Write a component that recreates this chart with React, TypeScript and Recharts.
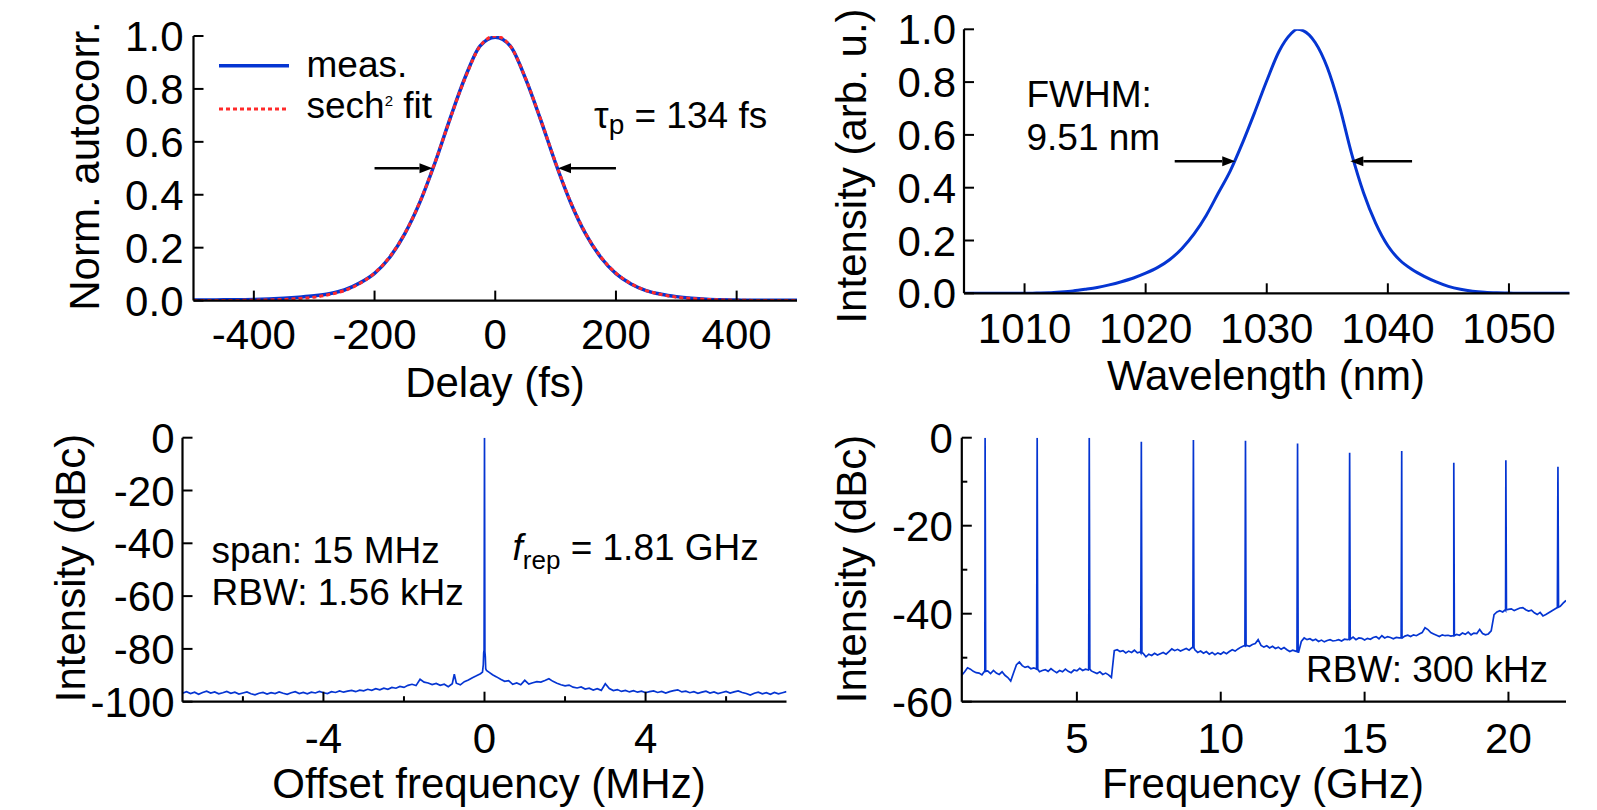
import { LineChart, Line, XAxis, YAxis, ReferenceLine } from 'recharts'

const FONT = '"Liberation Sans", Arial, Helvetica, sans-serif'
const BLUE = '#0535d2'
const RED = '#ff2a2a'
const INK = '#000'
const TICK_FS = 42
const TITLE_FS = 42
const NOTE_FS = 37

// (a) intensity autocorrelation
const delayFs = [
  -500, -475, -450, -425, -400, -375, -350, -325, -300, -275, -250, -225, -200, -175, -150, -125, -100, -75, -50, -25,
  0, 25, 50, 75, 100, 125, 150, 175, 200, 225, 250, 275, 300, 325, 350, 375, 400, 425, 450, 475, 500,
]
const autocorrMeas = [
  0.002, 0.002, 0.003, 0.003, 0.004, 0.006, 0.009, 0.013, 0.018, 0.026, 0.04, 0.066, 0.103, 0.163, 0.252, 0.371, 0.52, 0.687, 0.843, 0.963,
  0.995, 0.962, 0.84, 0.685, 0.519, 0.37, 0.251, 0.163, 0.102, 0.063, 0.038, 0.024, 0.015, 0.009, 0.005, 0.003, 0.002, 0.001, 0.001, 0.001, 0.001,
]
const autocorrFit = [
  0.0001, 0.0002, 0.0004, 0.0008, 0.0014, 0.0025, 0.0045, 0.008, 0.013, 0.023, 0.038, 0.064, 0.104, 0.165, 0.253, 0.372, 0.521, 0.686, 0.841, 0.962,
  1.0, 0.962, 0.841, 0.686, 0.521, 0.372, 0.253, 0.165, 0.104, 0.064, 0.038, 0.023, 0.013, 0.008, 0.0045, 0.0025, 0.0014, 0.0008, 0.0004, 0.0002, 0.0001,
]
const delayTicks = [-400, -200, 0, 200, 400]
const unitTicks = [0, 0.2, 0.4, 0.6, 0.8, 1]

// (b) optical spectrum
const wavelengthNm = [
  1005, 1006, 1007, 1008, 1009, 1010, 1011, 1012, 1013, 1014,
  1015, 1016, 1017, 1018, 1019, 1020, 1021, 1022, 1023, 1024,
  1025, 1026, 1027, 1028, 1029, 1030, 1031, 1032, 1032.5, 1033,
  1034, 1035, 1036, 1037, 1038, 1039, 1040, 1041, 1042, 1043,
  1044, 1045, 1046, 1047, 1048, 1049, 1050, 1051, 1052, 1053,
  1054, 1055,
]
const spectrumInt = [
  0, 0, 0, 0, 0, 0, 0.001, 0.002, 0.005, 0.009,
  0.015, 0.022, 0.032, 0.044, 0.058, 0.076, 0.098, 0.128, 0.17, 0.225,
  0.295, 0.38, 0.465, 0.57, 0.685, 0.805, 0.915, 0.983, 1.0, 0.995,
  0.95, 0.855, 0.71, 0.53, 0.38, 0.265, 0.18, 0.125, 0.09, 0.064,
  0.043, 0.026, 0.015, 0.008, 0.004, 0.002, 0.001, 0, 0, 0,
  0, 0,
]
const wavelengthTicks = [1010, 1020, 1030, 1040, 1050]

// (c) RF spectrum around the first harmonic
const offsetMHz = [
  -7.5, -7.4, -7.3, -7.2, -7.1, -7.0, -6.9, -6.8, -6.7, -6.6,
  -6.5, -6.4, -6.3, -6.2, -6.1, -6.0, -5.9, -5.8, -5.7, -5.6,
  -5.5, -5.4, -5.3, -5.2, -5.1, -5.0, -4.9, -4.8, -4.7, -4.6,
  -4.5, -4.4, -4.3, -4.2, -4.1, -4.0, -3.9, -3.8, -3.7, -3.6,
  -3.5, -3.4, -3.3, -3.2, -3.1, -3.0, -2.9, -2.8, -2.7, -2.6,
  -2.5, -2.4, -2.3, -2.2, -2.1, -2.0, -1.9, -1.8, -1.7, -1.6,
  -1.5, -1.4, -1.3, -1.2, -1.1, -1.0, -0.9, -0.8, -0.75, -0.7,
  -0.6, -0.5, -0.4, -0.3, -0.2, -0.1, -0.05, -0.03, -0.02, -0.01,
  0, 0.01, 0.02, 0.03, 0.05, 0.1, 0.2, 0.3, 0.4, 0.5,
  0.6, 0.7, 0.8, 0.9, 1.0, 1.1, 1.2, 1.3, 1.4, 1.5,
  1.6, 1.7, 1.8, 1.9, 2.0, 2.1, 2.2, 2.3, 2.4, 2.5,
  2.6, 2.7, 2.8, 2.9, 3.0, 3.1, 3.2, 3.3, 3.4, 3.5,
  3.6, 3.7, 3.8, 3.9, 4.0, 4.1, 4.2, 4.3, 4.4, 4.5,
  4.6, 4.7, 4.8, 4.9, 5.0, 5.1, 5.2, 5.3, 5.4, 5.5,
  5.6, 5.7, 5.8, 5.9, 6.0, 6.1, 6.2, 6.3, 6.4, 6.5,
  6.6, 6.7, 6.8, 6.9, 7.0, 7.1, 7.2, 7.3, 7.4, 7.5,
]
const offsetDbc = [
  -96.8, -96.2, -96.9, -96.4, -97.2, -96.5, -96.0, -96.7, -96.3, -97.0,
  -96.6, -96.1, -96.8, -96.4, -97.1, -96.7, -96.3, -97.0, -97.4, -96.8,
  -96.5, -97.1, -96.6, -96.9, -96.3, -96.8, -97.2, -96.6, -96.2, -96.9,
  -96.5, -97.0, -96.4, -96.7, -96.1, -96.6, -96.9, -96.2, -96.5, -95.9,
  -96.4, -96.0, -95.7, -96.2, -95.6, -95.9, -95.3, -95.7, -95.1, -95.5,
  -94.9, -95.3, -94.6, -94.9, -94.2, -94.6, -93.8, -93.4, -93.9, -91.5,
  -92.6, -92.9, -93.5, -93.1, -93.8, -93.4, -94.3, -93.2, -89.6, -93.0,
  -93.6, -92.4, -91.8, -90.9, -90.2, -89.4, -88.8, -86.0, -81.5, -80.5,
  0, -81.0, -83.0, -87.5, -88.2, -88.7, -89.8, -90.6, -91.5, -92.3,
  -92.0, -93.4, -92.9, -93.6, -91.9, -93.3, -92.8, -92.4, -92.6, -92.0,
  -91.3, -92.3, -93.0, -93.6, -94.0, -93.7, -94.5, -94.8, -94.4, -95.2,
  -94.9, -95.6, -95.1, -95.7, -93.2, -95.0, -95.8, -95.4, -96.1, -95.7,
  -96.3, -95.8, -96.4, -96.0, -96.6, -96.2, -95.9, -96.5, -96.1, -96.7,
  -96.2, -95.8, -95.5, -96.3, -96.0, -96.6, -96.2, -96.8, -96.4, -96.0,
  -96.7, -96.3, -96.9, -96.5, -96.1, -96.7, -96.3, -95.9, -96.5, -96.9,
  -97.5, -96.8, -96.4, -97.0, -96.6, -97.2, -96.5, -97.0, -96.6, -96.2,
]
const offsetTicks = [-6, -4, -2, 0, 2, 4, 6]
const offsetLabelled = [-4, 0, 4]
const dbcTicks = [0, -20, -40, -60, -80, -100]

// (d) wide-span RF spectrum: noise floor plus the comb lines
const floorGHz = [
  1.0, 1.1, 1.2, 1.3, 1.4, 1.5, 1.6, 1.7, 1.8, 1.9,
  2.0, 2.1, 2.2, 2.3, 2.4, 2.5, 2.6, 2.7, 2.8, 2.9,
  3.0, 3.1, 3.2, 3.3, 3.4, 3.5, 3.6, 3.7, 3.8, 3.9,
  4.0, 4.1, 4.2, 4.3, 4.4, 4.5, 4.6, 4.7, 4.8, 4.9,
  5.0, 5.1, 5.2, 5.3, 5.4, 5.5, 5.6, 5.7, 5.8, 5.9,
  6.0, 6.1, 6.2, 6.3, 6.4, 6.5, 6.6, 6.7, 6.8, 6.9,
  7.0, 7.1, 7.2, 7.3, 7.4, 7.5, 7.6, 7.7, 7.8, 7.9,
  8.0, 8.1, 8.2, 8.3, 8.4, 8.5, 8.6, 8.7, 8.8, 8.9,
  9.0, 9.1, 9.2, 9.3, 9.4, 9.5, 9.6, 9.7, 9.8, 9.9,
  10.0, 10.1, 10.2, 10.3, 10.4, 10.5, 10.6, 10.7, 10.8, 10.9,
  11.0, 11.1, 11.2, 11.3, 11.4, 11.5, 11.6, 11.7, 11.8, 11.9,
  12.0, 12.1, 12.2, 12.3, 12.4, 12.5, 12.6, 12.7, 12.8, 12.9,
  13.0, 13.1, 13.2, 13.3, 13.4, 13.5, 13.6, 13.7, 13.8, 13.9,
  14.0, 14.1, 14.2, 14.3, 14.4, 14.5, 14.6, 14.7, 14.8, 14.9,
  15.0, 15.1, 15.2, 15.3, 15.4, 15.5, 15.6, 15.7, 15.8, 15.9,
  16.0, 16.1, 16.2, 16.3, 16.4, 16.5, 16.6, 16.7, 16.8, 16.9,
  17.0, 17.1, 17.2, 17.3, 17.4, 17.5, 17.6, 17.7, 17.8, 17.9,
  18.0, 18.1, 18.2, 18.3, 18.4, 18.5, 18.6, 18.7, 18.8, 18.9,
  19.0, 19.1, 19.2, 19.3, 19.4, 19.5, 19.6, 19.7, 19.8, 19.9,
  20.0, 20.1, 20.2, 20.3, 20.4, 20.5, 20.6, 20.7, 20.8, 20.9,
  21.0, 21.1, 21.2, 21.3, 21.4, 21.5, 21.6, 21.7, 21.8, 21.9,
  22.0,
]
const floorDbc = [
  -54.0, -53.2, -52.3, -52.6, -53.1, -53.4, -53.5, -53.9, -53.3, -53.0,
  -53.6, -52.9, -53.5, -53.8, -53.2, -54.0, -54.5, -55.3, -53.4, -51.6,
  -51.0, -51.8, -52.2, -52.0, -52.5, -52.3, -52.6, -53.2, -52.9, -52.7,
  -53.1, -52.5, -53.0, -53.4, -52.9, -53.2, -52.6, -53.1, -53.4, -52.8,
  -53.0, -52.4, -52.9, -52.6, -52.8, -53.0, -53.3, -53.6, -53.2, -53.8,
  -53.5, -53.9, -54.5, -48.4, -48.2, -48.6, -48.4, -48.9, -48.5, -48.8,
  -48.3, -48.9, -48.7, -49.0, -49.8, -49.2, -49.5, -49.0, -49.4, -49.1,
  -48.8, -49.2, -48.6, -48.0, -48.4, -48.1, -48.5, -48.2, -47.9, -48.3,
  -47.7, -48.2, -48.8, -48.5, -49.0, -48.6, -49.2, -48.8, -49.3, -48.9,
  -49.2, -48.7, -49.1, -48.6, -48.2, -48.5, -48.0, -47.6, -47.3, -47.2,
  -47.4, -47.0, -46.8, -45.9, -47.2, -47.6, -47.3, -47.8, -47.4, -47.9,
  -47.6, -48.1, -47.7, -48.2, -48.6, -48.3, -48.5, -48.9, -46.3, -45.5,
  -45.9, -45.7, -46.1, -45.8, -46.3, -46.0, -46.4, -46.1, -45.9, -46.2,
  -46.1, -45.9, -46.2, -45.8, -45.9, -45.7, -45.3, -45.9, -45.5, -45.6,
  -46.0, -45.6, -45.8, -45.4, -45.2, -45.7, -45.0, -45.5, -45.2, -45.4,
  -45.7, -45.4, -45.5, -45.3, -45.1, -44.9, -45.2, -44.8, -45.0, -44.6,
  -44.3, -43.2, -43.6, -44.3, -44.6, -44.9, -45.2, -44.8, -45.0, -44.9,
  -45.1, -45.0, -44.7, -44.9, -44.4, -44.7, -44.2, -44.8, -44.4, -44.5,
  -43.6, -44.5, -44.8, -44.6, -43.9, -40.2, -39.6, -39.3, -39.6, -39.2,
  -39.0, -38.9, -39.3, -39.0, -38.7, -38.6, -39.1, -39.4, -39.2, -39.8,
  -40.2, -39.7, -40.5, -40.2, -39.8, -39.4, -39.0, -38.6, -38.3, -37.6,
  -37.0,
]
const combGHz = [1.81, 3.62, 5.43, 7.24, 9.05, 10.86, 12.67, 14.48, 16.29, 18.1, 19.91, 21.72]
const combPeakDbc = [0, 0, 0, -0.9, -0.5, -0.7, -1.3, -3.4, -3.0, -5.7, -5.1, -6.6]
const combBaseDbc = [-53.1, -52.6, -52.6, -48.9, -47.7, -47.3, -48.6, -45.8, -45.5, -45.0, -39.1, -38.5]
const freqTicks = [5, 10, 15, 20]
const wideDbcTicks = [0, -10, -20, -30, -40, -50, -60]

type Side = 'bottom' | 'top' | 'left' | 'right'

// inward tick marks drawn by hand so the frame looks like the original plot
function axisTick(side: Side, fmt?: (v: number) => string, isMinor?: (v: number) => boolean, gap = 12) {
  return (props: any) => {
    const { x, y, payload } = props
    const v: number = payload.value
    const minor = isMinor ? isMinor(v) : false
    const len = minor ? 5.5 : 10
    const end =
      side === 'bottom' ? { x2: x, y2: y - len }
        : side === 'top' ? { x2: x, y2: y + len }
          : side === 'left' ? { x2: x + len, y2: y }
            : { x2: x - len, y2: y }
    let label = null
    if (fmt && !minor) {
      const txt = fmt(v)
      if (side === 'bottom') {
        label = (
          <text x={x} y={y + gap + 0.716 * TICK_FS} textAnchor="middle" fontSize={TICK_FS} fontFamily={FONT} fill={INK}>
            {txt}
          </text>
        )
      } else if (side === 'left') {
        label = (
          <text x={x - gap} y={y + 0.358 * TICK_FS} textAnchor="end" fontSize={TICK_FS} fontFamily={FONT} fill={INK}>
            {txt}
          </text>
        )
      }
    }
    return (
      <g>
        <line x1={x} y1={y} {...end} stroke={INK} strokeWidth={2} />
        {label}
      </g>
    )
  }
}

interface FrameOpts {
  xDomain: [number, number]
  xTicks: number[]
  yDomain: [number, number]
  yTicks: number[]
  xFmt: (v: number) => string
  yFmt: (v: number) => string
  xMinor?: (v: number) => boolean
  yMinor?: (v: number) => boolean
  xHeight: number
  yWidth: number
  xGap: number
  yGap: number
}

function frame(o: FrameOpts) {
  const axisLine = { stroke: INK, strokeWidth: 2.2 }
  const common = { tickSize: 0, tickMargin: 0, tickLine: false, interval: 0 as const, allowDataOverflow: true, stroke: INK, axisLine }
  return [
    <XAxis key="xb" xAxisId="b" orientation="bottom" type="number" dataKey="x" domain={o.xDomain} ticks={o.xTicks}
      height={o.xHeight} tick={axisTick('bottom', o.xFmt, o.xMinor, o.xGap)} {...common} />,
    <XAxis key="xt" xAxisId="t" orientation="top" type="number" dataKey="x" domain={o.xDomain} ticks={o.xTicks}
      height={0} tick={axisTick('top', undefined, o.xMinor)} {...common} />,
    <YAxis key="yl" yAxisId="l" orientation="left" type="number" domain={o.yDomain} ticks={o.yTicks}
      width={o.yWidth} tick={axisTick('left', o.yFmt, o.yMinor, o.yGap)} {...common} />,
    <YAxis key="yr" yAxisId="r" orientation="right" type="number" domain={o.yDomain} ticks={o.yTicks}
      width={0} tick={axisTick('right', undefined, o.yMinor)} {...common} />,
  ]
}

const arrowShape = (p: any) => {
  const { x1, y1, x2, y2 } = p
  const dx = x2 - x1
  const dy = y2 - y1
  const len = Math.hypot(dx, dy) || 1
  const ux = dx / len
  const uy = dy / len
  const hl = 13
  const hw = 5
  const bx = x2 - ux * hl
  const by = y2 - uy * hl
  return (
    <g>
      <line x1={x1} y1={y1} x2={bx} y2={by} stroke={INK} strokeWidth={2.5} />
      <polygon points={`${x2},${y2} ${bx - uy * hw},${by + ux * hw} ${bx + uy * hw},${by - ux * hw}`} fill={INK} />
    </g>
  )
}

const fixed1 = (v: number) => v.toFixed(1)
const plain = (v: number) => String(v)

export default function App() {
  const autocorrRows = delayFs.map((x, i) => ({ x, meas: autocorrMeas[i], fit: autocorrFit[i] }))
  const spectrumRows = wavelengthNm.map((x, i) => ({ x, y: spectrumInt[i] }))
  const offsetRows = offsetMHz.map((x, i) => ({ x, y: offsetDbc[i] }))
  const wideRows = [
    ...floorGHz.map((x, i) => ({ x, y: floorDbc[i] })),
    ...combGHz.flatMap((f, i) => [
      { x: f - 0.02, y: combBaseDbc[i] },
      { x: f, y: combPeakDbc[i] },
      { x: f + 0.02, y: combBaseDbc[i] },
    ]),
  ].sort((a, b) => a.x - b.x)

  const txt = { fontFamily: FONT, fill: INK }

  return (
    <div style={{ position: 'absolute', left: 0, top: 0, width: 1597, height: 810, background: '#fff' }}>
      <div style={{ position: 'absolute', left: 0, top: 0 }}>
        <LineChart width={800} height={405} data={autocorrRows} margin={{ top: 36, right: 3, bottom: 0, left: 0 }}>
          {frame({
            xDomain: [-500, 500], xTicks: delayTicks, yDomain: [0, 1], yTicks: unitTicks,
            xFmt: plain, yFmt: fixed1, xHeight: 104.4, yWidth: 193.5, xGap: 18.4, yGap: 10,
          })}
          <Line xAxisId="b" yAxisId="l" type="monotone" dataKey="meas" stroke={BLUE} strokeWidth={3.5} dot={false} isAnimationActive={false} />
          <Line xAxisId="b" yAxisId="l" type="monotone" dataKey="fit" stroke={RED} strokeWidth={3} strokeDasharray="4 3" dot={false} isAnimationActive={false} />
          <ReferenceLine xAxisId="b" yAxisId="l" segment={[{ x: -200, y: 0.5 }, { x: -104, y: 0.5 }]} shape={arrowShape} />
          <ReferenceLine xAxisId="b" yAxisId="l" segment={[{ x: 200, y: 0.5 }, { x: 104, y: 0.5 }]} shape={arrowShape} />
        </LineChart>
      </div>

      <div style={{ position: 'absolute', left: 800, top: 0 }}>
        <LineChart width={797} height={405} data={spectrumRows} margin={{ top: 29.3, right: 27.5, bottom: 0, left: 0 }}>
          {frame({
            xDomain: [1005, 1055], xTicks: wavelengthTicks, yDomain: [0, 1], yTicks: unitTicks,
            xFmt: plain, yFmt: fixed1, xHeight: 111.7, yWidth: 164, xGap: 19.5, yGap: 8,
          })}
          <Line xAxisId="b" yAxisId="l" type="monotone" dataKey="y" stroke={BLUE} strokeWidth={3} dot={false} isAnimationActive={false} />
          <ReferenceLine xAxisId="b" yAxisId="l" segment={[{ x: 1022.4, y: 0.5 }, { x: 1027.4, y: 0.5 }]} shape={arrowShape} />
          <ReferenceLine xAxisId="b" yAxisId="l" segment={[{ x: 1042, y: 0.5 }, { x: 1036.9, y: 0.5 }]} shape={arrowShape} />
        </LineChart>
      </div>

      <div style={{ position: 'absolute', left: 0, top: 405 }}>
        <LineChart width={800} height={405} data={offsetRows} margin={{ top: 32.7, right: 13.5, bottom: 0, left: 0 }}>
          {frame({
            xDomain: [-7.5, 7.5], xTicks: offsetTicks, yDomain: [-100, 0], yTicks: dbcTicks,
            xFmt: plain, yFmt: plain, xMinor: (v) => !offsetLabelled.includes(v),
            xHeight: 108.3, yWidth: 182.5, xGap: 21, yGap: 8,
          })}
          <Line xAxisId="b" yAxisId="l" type="linear" dataKey="y" stroke={BLUE} strokeWidth={1.7} dot={false} isAnimationActive={false} />
        </LineChart>
      </div>

      <div style={{ position: 'absolute', left: 800, top: 405 }}>
        <LineChart width={797} height={405} data={wideRows} margin={{ top: 32.7, right: 31, bottom: 0, left: 0 }}>
          {frame({
            xDomain: [1, 22], xTicks: freqTicks, yDomain: [-60, 0], yTicks: wideDbcTicks,
            xFmt: plain, yFmt: plain, yMinor: (v) => v % 20 !== 0,
            xHeight: 108.3, yWidth: 161.8, xGap: 21, yGap: 9,
          })}
          <Line xAxisId="b" yAxisId="l" type="linear" dataKey="y" stroke={BLUE} strokeWidth={1.7} dot={false} isAnimationActive={false} />
        </LineChart>
      </div>

      <svg width={1597} height={810} style={{ position: 'absolute', left: 0, top: 0, pointerEvents: 'none' }}>
        {/* axis titles */}
        <text {...txt} fontSize={TITLE_FS} textAnchor="middle" transform="translate(99 166) rotate(-90)">Norm. autocorr.</text>
        <text {...txt} fontSize={TITLE_FS} textAnchor="middle" x={495} y={397}>Delay (fs)</text>
        <text {...txt} fontSize={TITLE_FS} textAnchor="middle" transform="translate(866 166) rotate(-90)">Intensity (arb. u.)</text>
        <text {...txt} fontSize={TITLE_FS} textAnchor="middle" x={1266} y={390}>Wavelength (nm)</text>
        <text {...txt} fontSize={TITLE_FS} textAnchor="middle" transform="translate(85 568) rotate(-90)">Intensity (dBc)</text>
        <text {...txt} fontSize={TITLE_FS} textAnchor="middle" x={489} y={798}>Offset frequency (MHz)</text>
        <text {...txt} fontSize={TITLE_FS} textAnchor="middle" transform="translate(866 569) rotate(-90)">Intensity (dBc)</text>
        <text {...txt} fontSize={TITLE_FS} textAnchor="middle" x={1263} y={798}>Frequency (GHz)</text>

        {/* legend of panel (a) */}
        <line x1={219} y1={65.7} x2={289} y2={65.7} stroke={BLUE} strokeWidth={3.5} />
        <line x1={219} y1={109} x2={289} y2={109} stroke={RED} strokeWidth={3} strokeDasharray="4 3" />
        <text {...txt} fontSize={NOTE_FS} x={306.5} y={76.7}>meas.</text>
        <text {...txt} fontSize={NOTE_FS} x={306.5} y={118.3}>
          sech<tspan fontSize={15} dy={-12}>2</tspan><tspan dy={12}> fit</tspan>
        </text>
        <text {...txt} fontSize={NOTE_FS} x={594} y={128.3}>
          τ<tspan fontSize={28} dy={6}>p</tspan><tspan dy={-6}> = 134 fs</tspan>
        </text>

        {/* panel (b) */}
        <text {...txt} fontSize={NOTE_FS} x={1026.5} y={106.5}>FWHM:</text>
        <text {...txt} fontSize={NOTE_FS} x={1026.5} y={149.5}>9.51 nm</text>

        {/* panel (c) */}
        <text {...txt} fontSize={NOTE_FS} x={211.5} y={562.5}>span: 15 MHz</text>
        <text {...txt} fontSize={NOTE_FS} x={211.5} y={605}>RBW: 1.56 kHz</text>
        <text {...txt} fontSize={NOTE_FS} x={512.5} y={560}>
          <tspan fontStyle="italic">f</tspan><tspan fontSize={26} dy={9}>rep</tspan><tspan dy={-9}> = 1.81 GHz</tspan>
        </text>

        {/* panel (d) */}
        <text {...txt} fontSize={NOTE_FS} x={1306} y={681.7}>RBW: 300 kHz</text>
      </svg>
    </div>
  )
}
